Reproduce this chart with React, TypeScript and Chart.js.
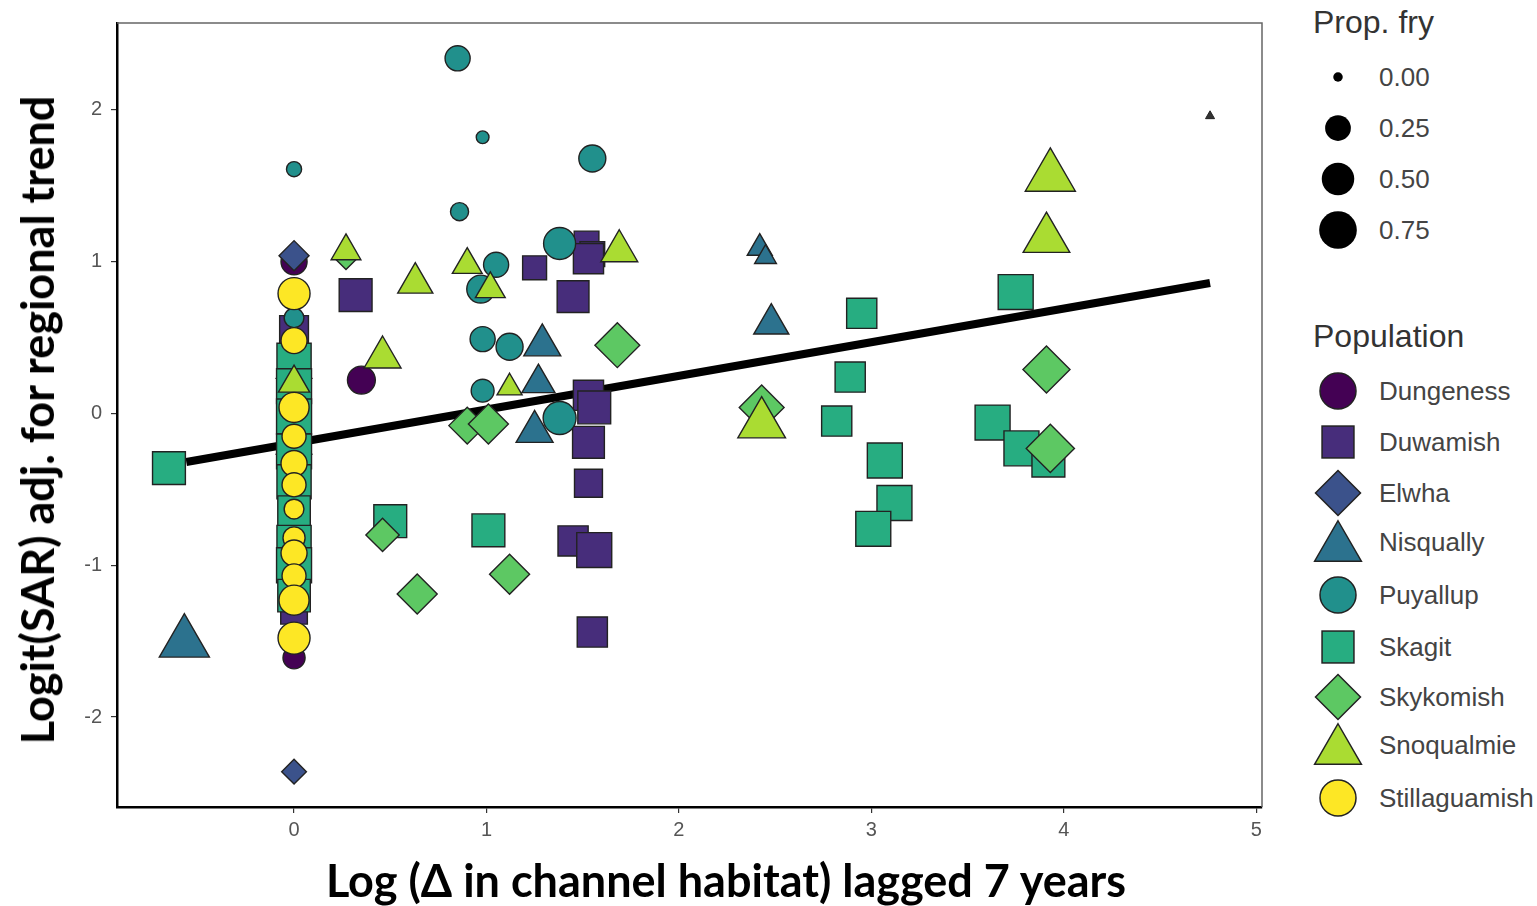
import React, { useEffect, useRef } from "react";
import { Chart, registerables } from "chart.js";
Chart.register(...registerables);

// ---- axis ranges / ticks ----
const X_MIN = -0.92;
const X_MAX = 5.03;
const Y_MIN = -2.593;
const Y_MAX = 2.573;

// ---- populations ----
const populations = ["Dungeness", "Duwamish", "Elwha", "Nisqually", "Puyallup", "Skagit", "Skykomish", "Snoqualmie", "Stillaguamish"];
const popColors = ["#440154", "#472D7B", "#3B528B", "#2C728E", "#21908C", "#27AD81", "#5DC863", "#AADC32", "#FDE725"];
const popShapes = ["circle", "rect", "rectRot", "triangle", "circle", "rect", "rectRot", "triangle", "circle"];

// ---- series: x = log change in habitat, y = logit SAR, fry = proportion fry ----
const dungenessX = [0, 0.35, 0, 0];
const dungenessY = [1.0, 0.22, -1.61, -0.95];
const dungenessFry = [0.26, 0.32, 0.15, 0.3];

const duwamishX = [0.32, 1.25, 1.45, 1.52, 1.55, 1.53, 1.53, 1.56, 1.53, 1.53, 1.45, 1.56, 1.55, 0, 0, 0];
const duwamishY = [0.78, 0.96, 0.77, 1.12, 1.05, 1.02, 0.12, 0.04, -0.19, -0.46, -0.84, -0.9, -1.44, 0.55, -1.1, -1.3];
const duwamishFry = [0.72, 0.29, 0.66, 0.32, 0.32, 0.57, 0.57, 0.72, 0.66, 0.46, 0.57, 0.85, 0.57, 0.5, 0.5, 0.4];

const elwhaX = [0, 0];
const elwhaY = [1.04, -2.36];
const elwhaFry = [0.2, 0.1];

const nisquallyX = [-0.57, 2.42, 2.45, 2.48, 1.29, 1.27, 1.25, 0, 0];
const nisquallyY = [-1.51, 1.09, 1.03, 0.59, 0.45, 0.2, -0.12, 0.3, -0.2];
const nisquallyFry = [0.8, 0.09, 0.05, 0.29, 0.34, 0.24, 0.34, 0.3, 0.3];

const puyallupX = [0.85, 0.98, 1.55, 0.86, 0, 1.38, 1.05, 0.97, 0.98, 1.12, 0.98, 1.38, 0, 0, 0];
const puyallupY = [2.34, 1.82, 1.68, 1.33, 1.61, 1.12, 0.98, 0.82, 0.49, 0.44, 0.15, -0.03, 0.63, 0.4, -0.55];
const puyallupFry = [0.23, 0.01, 0.29, 0.07, 0.03, 0.48, 0.23, 0.32, 0.23, 0.29, 0.17, 0.52, 0.1, 0.2, 0.2];

const skagitX = [-0.65, 0.5, 1.01, 2.95, 2.89, 2.82, 3.07, 3.12, 3.01, 3.75, 3.63, 3.78, 3.92, 0, 0, 0, 0, 0, 0, 0, 0, 0];
const skagitY = [-0.36, -0.71, -0.77, 0.66, 0.24, -0.05, -0.31, -0.59, -0.76, 0.8, -0.06, -0.23, -0.31, 0.35, 0.18, -0.02, -0.25, -0.45, -0.65, -0.85, -1.0, -1.2];
const skagitFry = [0.72, 0.72, 0.72, 0.57, 0.57, 0.57, 0.85, 0.85, 0.85, 0.85, 0.85, 0.85, 0.72, 0.8, 0.85, 0.85, 0.85, 0.8, 0.7, 0.8, 0.85, 0.7];

const skykomishX = [0.27, 1.68, 0.9, 1.01, 0.46, 1.12, 0.64, 2.43, 3.91, 3.93];
const skykomishY = [1.03, 0.45, -0.08, -0.07, -0.8, -1.06, -1.19, 0.04, 0.29, -0.23];
const skykomishFry = [0.1, 0.66, 0.38, 0.48, 0.28, 0.48, 0.48, 0.66, 0.75, 0.8];

const snoqualmieX = [0.27, 0.63, 0.9, 1.02, 1.69, 0.46, 1.12, 2.43, 3.93, 3.91, 0];
const snoqualmieY = [1.07, 0.86, 0.98, 0.82, 1.07, 0.37, 0.17, -0.07, 1.56, 1.15, 0.2];
const snoqualmieFry = [0.17, 0.29, 0.17, 0.17, 0.34, 0.34, 0.09, 0.7, 0.8, 0.66, 0.2];

const stillaguamishX = [0, 0, 0, 0, 0, 0, 0, 0, 0, 0, 0, 0];
const stillaguamishY = [0.79, 0.48, 0.04, -0.15, -0.33, -0.47, -0.63, -0.82, -0.92, -1.07, -1.23, -1.48];
const stillaguamishFry = [0.48, 0.26, 0.4, 0.2, 0.26, 0.2, 0.1, 0.15, 0.26, 0.2, 0.4, 0.48];

// point without population
const otherX = [4.76];
const otherY = [1.96];
const otherFry = [0];

// regression line end points
const trendX = [-0.56, 4.76];
const trendY = [-0.32, 0.86];

// size legend
const fryLegendValues = [0, 0.25, 0.5, 0.75];
const fryLegendLabels = ["0.00", "0.25", "0.50", "0.75"];

const seriesX = [dungenessX, duwamishX, elwhaX, nisquallyX, puyallupX, skagitX, skykomishX, snoqualmieX, stillaguamishX];
const seriesY = [dungenessY, duwamishY, elwhaY, nisquallyY, puyallupY, skagitY, skykomishY, snoqualmieY, stillaguamishY];
const seriesFry = [dungenessFry, duwamishFry, elwhaFry, nisquallyFry, puyallupFry, skagitFry, skykomishFry, snoqualmieFry, stillaguamishFry];

// size mapping: circle diameter from proportion fry (area scale)
const circleDiam = (f: number) => 9.5 + 32.5 * Math.sqrt(f);
const shapeFactor: Record<string, number> = { circle: 1, rect: 1.253, rectRot: 1.25, triangle: 1.5 };

const TICK_FONT = { family: "'Liberation Sans', Arial, sans-serif", size: 20 };

function LegendSymbol({ shape, color, size }: { shape: string; color: string; size: number }) {
  const s = 50;
  const c = s / 2;
  const r = size / 2;
  let el: any;
  if (shape === "circle") el = <circle cx={c} cy={c} r={r} fill={color} stroke="#222" strokeWidth={1.5} />;
  else if (shape === "rect") {
    const h = r * 0.886;
    el = <rect x={c - h} y={c - h} width={2 * h} height={2 * h} fill={color} stroke="#222" strokeWidth={1.5} />;
  } else if (shape === "rectRot") {
    const h = r * 1.25;
    el = <polygon points={`${c},${c - h} ${c + h},${c} ${c},${c + h} ${c - h},${c}`} fill={color} stroke="#222" strokeWidth={1.5} />;
  } else {
    const R = r * 1.5;
    const hw = R * 0.866;
    const top = c - 0.75 * R - 1;
    const bot = c + 0.75 * R - 1;
    el = <polygon points={`${c},${top} ${c + hw},${bot} ${c - hw},${bot}`} fill={color} stroke="#222" strokeWidth={1.5} />;
  }
  return (
    <svg width={s} height={s} style={{ position: "absolute", left: 1338 - c, top: -c }}>
      {el}
    </svg>
  );
}

const zeroPad = (s: any) => {
  s.paddingTop = 0;
  s.paddingBottom = 0;
  s.paddingLeft = 0;
  s.paddingRight = 0;
};

export default function App() {
  const ref = useRef<HTMLCanvasElement>(null);

  useEffect(() => {
    const canvas = ref.current!;
    const datasets: any[] = populations.map((name, i) => {
      const shape = popShapes[i];
      return {
        label: name,
        data: seriesX[i].map((x, k) => ({ x, y: seriesY[i][k] })),
        pointStyle: shape,
        pointRadius: seriesFry[i].map((f) => (circleDiam(f) / 2) * shapeFactor[shape]),
        backgroundColor: popColors[i],
        borderColor: "#222",
        pointBorderWidth: 1.4,
        order: 20 - i,
      };
    });
    datasets.push({
      label: "NA",
      data: otherX.map((x, k) => ({ x, y: otherY[k] })),
      pointStyle: "triangle",
      pointRadius: otherFry.map((f) => (circleDiam(f) / 2) * 1.1),
      backgroundColor: "#333",
      borderColor: "#222",
      pointBorderWidth: 1,
      order: 5,
    });
    datasets.push({
      label: "trend",
      data: trendX.map((x, k) => ({ x, y: trendY[k] })),
      showLine: true,
      borderColor: "#000",
      borderWidth: 8,
      borderCapStyle: "butt",
      pointRadius: 0,
      order: 100,
    });

    const frame = {
      id: "frame",
      beforeDatasetsDraw(chart: any) {
        const { ctx, chartArea: a } = chart;
        ctx.save();
        ctx.strokeStyle = "#666";
        ctx.lineWidth = 1.5;
        ctx.beginPath();
        ctx.moveTo(a.left, a.top);
        ctx.lineTo(a.right, a.top);
        ctx.lineTo(a.right, a.bottom);
        ctx.stroke();
        ctx.restore();
      },
    };

    const chart = new Chart(canvas, {
      type: "scatter",
      data: { datasets },
      options: {
        responsive: false,
        animation: false,
        events: [],
        layout: { autoPadding: false, padding: { left: 0, top: 23, right: 28, bottom: 0 } },
        plugins: { legend: { display: false }, tooltip: { enabled: false } },
        scales: {
          x: {
            type: "linear",
            min: X_MIN,
            max: X_MAX,
            afterFit: (s: any) => {
              s.height = 99;
              zeroPad(s);
            },
            ticks: { stepSize: 1, includeBounds: false, font: TICK_FONT, color: "#555", padding: 5, maxRotation: 0 },
            grid: { display: true, drawOnChartArea: false, drawTicks: true, tickLength: 6, color: "#333", lineWidth: 1.2 },
            border: { display: true, color: "#000", width: 2.5 },
          },
          y: {
            type: "linear",
            min: Y_MIN,
            max: Y_MAX,
            afterFit: (s: any) => {
              s.width = 117;
              zeroPad(s);
            },
            ticks: { stepSize: 1, includeBounds: false, font: TICK_FONT, color: "#555", padding: 9 },
            grid: { display: true, drawOnChartArea: false, drawTicks: true, tickLength: 6, color: "#333", lineWidth: 1.2 },
            border: { display: true, color: "#000", width: 2.5 },
          },
        },
      },
      plugins: [frame],
    } as any);
    return () => chart.destroy();
  }, []);

  const legendFont = "'Liberation Sans', Arial, sans-serif";
  const fryRows = [77, 128, 179, 230];
  const popRows = [391, 442, 493, 542, 595, 647, 697, 745, 798];

  return (
    <div style={{ position: "absolute", left: 0, top: 0, width: 1537, height: 906, background: "#fff", overflow: "hidden" }}>
      <canvas ref={ref} width={1290} height={906} style={{ position: "absolute", left: 0, top: 0, width: 1290, height: 906 }} />
      {/* axis titles */}
      <div style={{ position: "absolute", left: 726, top: 880, transform: "translate(-50%,-50%)", whiteSpace: "nowrap", font: "bold 45px Lato, 'Open Sans', sans-serif", color: "#000" }}>
        Log (Δ in channel habitat) lagged 7 years
      </div>
      <div style={{ position: "absolute", left: 37, top: 420, transform: "translate(-50%,-50%) rotate(-90deg)", whiteSpace: "nowrap", font: "bold 45px Lato, 'Open Sans', sans-serif", color: "#000" }}>
        Logit(SAR) adj. for regional trend
      </div>
      {/* size legend */}
      <div style={{ position: "absolute", left: 1313, top: 22, transform: "translateY(-50%)", font: `32px ${legendFont}`, color: "#333", whiteSpace: "nowrap" }}>Prop. fry</div>
      {fryLegendValues.map((v, i) => (
        <div key={"f" + i} style={{ position: "absolute", left: 0, top: fryRows[i], width: 1537, height: 0 }}>
          <svg width={50} height={50} style={{ position: "absolute", left: 1313, top: -25 }}>
            <circle cx={25} cy={25} r={circleDiam(v) / 2} fill="#000" />
          </svg>
          <div style={{ position: "absolute", left: 1379, top: 0, transform: "translateY(-50%)", font: `26px ${legendFont}`, color: "#444", whiteSpace: "nowrap" }}>{fryLegendLabels[i]}</div>
        </div>
      ))}
      {/* population legend */}
      <div style={{ position: "absolute", left: 1313, top: 336, transform: "translateY(-50%)", font: `32px ${legendFont}`, color: "#333", whiteSpace: "nowrap" }}>Population</div>
      {populations.map((p, i) => (
        <div key={p} style={{ position: "absolute", left: 0, top: popRows[i], width: 1537, height: 0 }}>
          <LegendSymbol shape={popShapes[i]} color={popColors[i]} size={36} />
          <div style={{ position: "absolute", left: 1379, top: 0, transform: "translateY(-50%)", font: `26px ${legendFont}`, color: "#444", whiteSpace: "nowrap" }}>{p}</div>
        </div>
      ))}
    </div>
  );
}
